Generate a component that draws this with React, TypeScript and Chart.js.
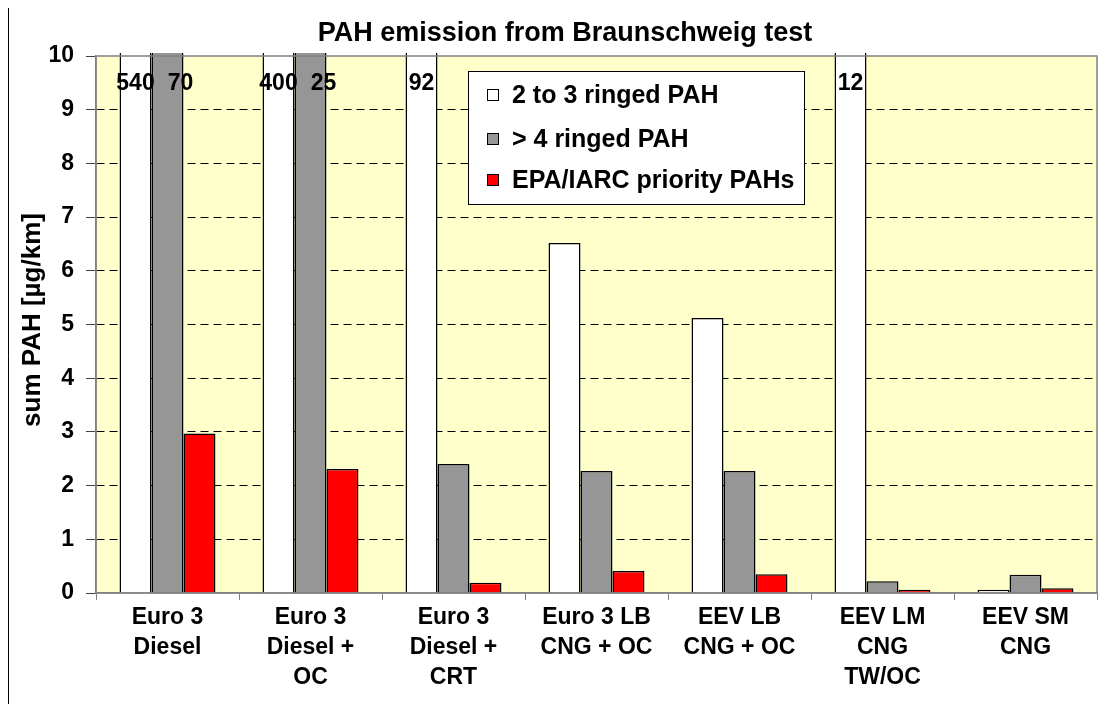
import React, { useEffect, useRef } from "react";
import { Chart, registerables } from "chart.js";

Chart.register(...registerables);

const chartTitle = "PAH emission from Braunschweig test";
const yAxisTitle = "sum PAH [µg/km]";

const categories: string[][] = [
  ["Euro 3", "Diesel"],
  ["Euro 3", "Diesel +", "OC"],
  ["Euro 3", "Diesel +", "CRT"],
  ["Euro 3 LB", "CNG + OC"],
  ["EEV LB", "CNG + OC"],
  ["EEV LM", "CNG", "TW/OC"],
  ["EEV SM", "CNG"],
];

const seriesLabels = ["2 to 3 ringed PAH", "> 4 ringed PAH", "EPA/IARC priority PAHs"];
const twoToThreeRinged = [540, 400, 92, 6.52, 5.12, 12, 0.06];
const fourRinged = [70, 25, 2.4, 2.27, 2.27, 0.22, 0.34];
const epaIarcPriority = [2.97, 2.31, 0.19, 0.41, 0.35, 0.06, 0.09];

const yMin = 0;
const yMax = 10;
const yStep = 1;

const seriesColors = ["#FFFFFF", "#969696", "#FF0000"];
const FONT = "'Liberation Sans', Arial, Helvetica, sans-serif";

const labelOffsets = [0, 13, 13];

const decorPlugin = {
  id: "decor",
  beforeDraw(chart: any) {
    const { ctx, chartArea: a } = chart;
    ctx.save();
    ctx.fillStyle = "#FFFFCC";
    ctx.fillRect(a.left, a.top, a.right - a.left, a.bottom - a.top);
    ctx.strokeStyle = "#000";
    ctx.lineWidth = 1;
    ctx.beginPath();
    ctx.moveTo(0.5, chart.height);
    ctx.lineTo(0.5, 0.5);
    ctx.lineTo(chart.width, 0.5);
    ctx.stroke();
    ctx.restore();
  },
  afterDatasetsDraw(chart: any) {
    const { ctx, chartArea: a } = chart;
    ctx.save();
    // plot border
    ctx.strokeStyle = "#808080";
    ctx.lineWidth = 1.5;
    ctx.strokeRect(a.left, a.top, a.right - a.left, a.bottom - a.top);

    // overflow value labels
    ctx.fillStyle = "#000";
    ctx.font = `bold 23px ${FONT}`;
    ctx.textAlign = "center";
    ctx.textBaseline = "middle";
    chart.data.datasets.forEach((ds: any, i: number) => {
      const meta = chart.getDatasetMeta(i);
      ds.data.forEach((v: number, j: number) => {
        if (v > yMax) {
          const el = meta.data[j];
          ctx.fillText(String(v), el.x + labelOffsets[i], 77);
        }
      });
    });

    // title
    ctx.font = `bold 27px ${FONT}`;
    ctx.textBaseline = "alphabetic";
    ctx.fillText(chartTitle, 557, 34);

    // y title
    ctx.save();
    ctx.translate(25, 313);
    ctx.rotate(-Math.PI / 2);
    ctx.font = `bold 26px ${FONT}`;
    ctx.textBaseline = "middle";
    ctx.fillText(yAxisTitle, 0, 0);
    ctx.restore();

    // legend
    const lx = 460.5, ly = 64.5, lw = 336, lh = 133;
    ctx.fillStyle = "#FFFFFF";
    ctx.fillRect(lx, ly, lw, lh);
    ctx.strokeStyle = "#000";
    ctx.lineWidth = 1;
    ctx.strokeRect(lx, ly, lw, lh);
    const rows = [88, 132, 173];
    ctx.font = `bold 25px ${FONT}`;
    ctx.textAlign = "left";
    ctx.textBaseline = "middle";
    chart.data.datasets.forEach((ds: any, i: number) => {
      const cy = rows[i];
      ctx.fillStyle = ds.backgroundColor;
      ctx.fillRect(479.5, cy - 5.5, 11, 11);
      ctx.strokeStyle = "#000";
      ctx.strokeRect(479.5, cy - 5.5, 11, 11);
      ctx.fillStyle = "#000";
      ctx.fillText(ds.label, 504, cy + 1);
    });
    ctx.restore();
  },
};

export default function App() {
  const canvasRef = useRef<HTMLCanvasElement | null>(null);

  useEffect(() => {
    if (!canvasRef.current) return;
    const seriesData = [twoToThreeRinged, fourRinged, epaIarcPriority];
    const chart = new Chart(canvasRef.current, {
      type: "bar",
      data: {
        labels: categories,
        datasets: seriesData.map((d, i) => ({
          label: seriesLabels[i],
          data: d,
          backgroundColor: seriesColors[i],
          borderColor: "#000000",
          borderWidth: 1.5,
          categoryPercentage: 0.671,
          barPercentage: 1.0,
          clip: 3,
        })),
      },
      options: {
        responsive: false,
        animation: false,
        layout: { padding: { top: 49, right: 17, left: 0, bottom: 0 } },
        plugins: {
          legend: { display: false },
          title: { display: false },
          tooltip: { enabled: false },
        },
        scales: {
          x: {
            offset: true,
            grid: {
              offset: true,
              drawOnChartArea: false,
              tickLength: 7,
              color: "#808080",
            },
            border: { display: true, color: "#808080", width: 1.5 },
            ticks: {
              color: "#000",
              padding: 3,
              maxRotation: 0,
              autoSkip: false,
              font: { family: FONT, size: 23, weight: "bold", lineHeight: 30 / 23 },
            },
            afterFit(scale: any) {
              scale.height = 111;
            },
          },
          y: {
            min: yMin,
            max: yMax,
            ticks: {
              stepSize: yStep,
              color: "#000",
              padding: 12,
              font: { family: FONT, size: 23, weight: "bold" },
            },
            grid: {
              color: (c: any) =>
                c.tick && (c.tick.value === yMin || c.tick.value === yMax) ? "rgba(0,0,0,0)" : "#000000",
              tickColor: "#404040",
              tickLength: 10,
              tickBorderDash: [],
              lineWidth: 1,
            },
            border: { display: true, color: "#808080", width: 1.5, dash: [8, 5] },
            afterFit(scale: any) {
              scale.width = 88;
            },
          },
        },
      },
      plugins: [decorPlugin],
    } as any);
    return () => chart.destroy();
  }, []);

  return (
    <div style={{ width: 1106, height: 697, marginTop: -1, background: "#fff" }}>
      <canvas ref={canvasRef} width={1106} height={697} style={{ display: "block" }} />
    </div>
  );
}
